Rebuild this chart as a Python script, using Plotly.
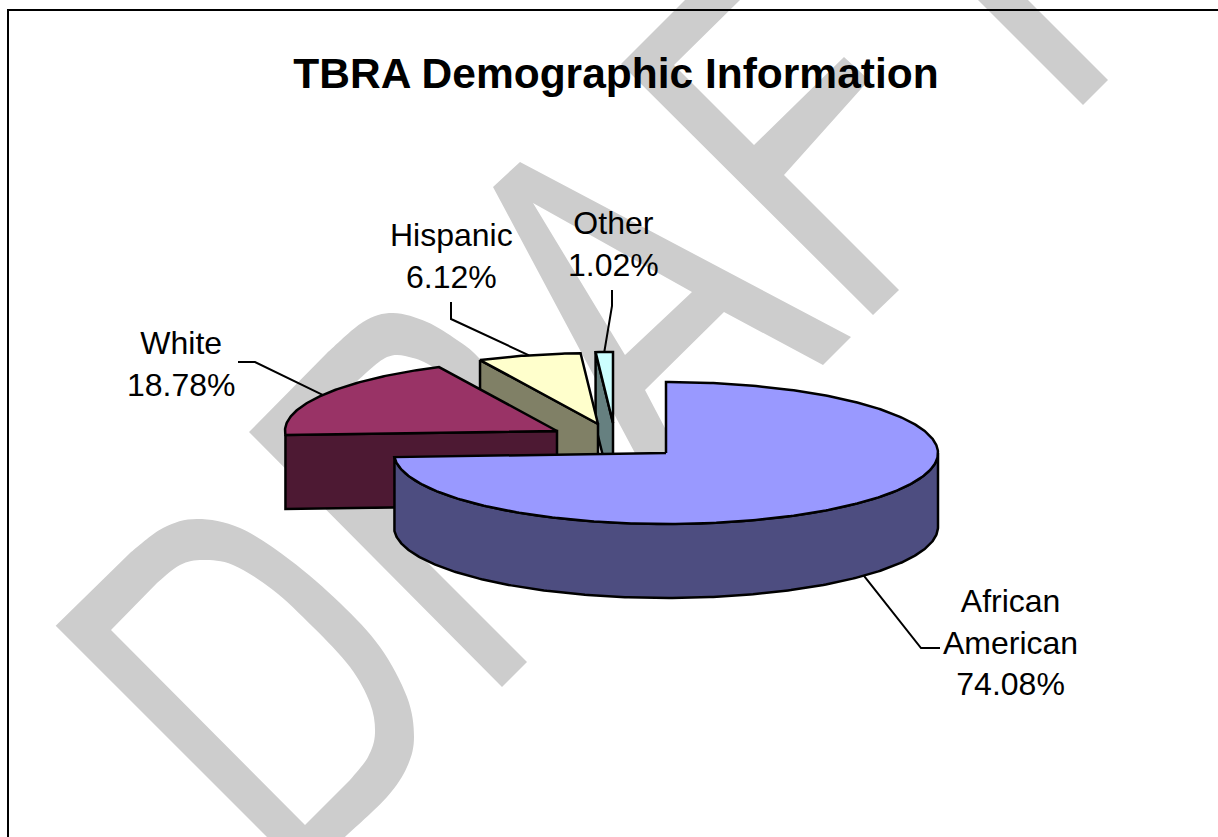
import math
import plotly.graph_objects as go

# ---- chart data ----
categories = ["African American", "White", "Hispanic", "Other"]
label_lines = ["African<br>American", "White", "Hispanic", "Other"]
percent = [74.08, 18.78, 6.12, 1.02]
top_colors = ["#9999FF", "#993366", "#FFFFCC", "#CCFFFF"]
wall_colors = ["#4D4D80", "#4D1933", "#808066", "#668080"]

# ---- projection of the tilted pie, in canvas pixels ----
RX, RY, DEPTH = 272, 71, 74
apex = {"African American": (666, 453), "White": (557, 431),
        "Hispanic": (598, 424), "Other": (613, 423)}
label_pos = {"African American": (1010, 642.5), "White": (181, 364),
             "Hispanic": (451, 255.5), "Other": (613, 243.5)}
# knee and end of each leader line (the start is derived from the slice)
leader_tail = {"African American": [(921, 648), (940, 648)],
               "White": [(255, 362), (238, 362)],
               "Hispanic": [(451, 319), (451, 302)],
               "Other": [(612, 306), (612, 290)]}


def rim(c, a, dy=0):
    r = math.radians(a)
    return c[0] + RX * math.sin(r), c[1] - RY * math.cos(r) + dy


def arc(c, a0, a1, dy=0):
    n = max(2, int(abs(a1 - a0) * 1.5))
    return [rim(c, a0 + (a1 - a0) * i / n, dy) for i in range(n + 1)]


bounds, acc = [], 0.0
for p in percent:
    bounds.append((acc * 3.6, (acc + p) * 3.6))
    acc += p


def poly(pts, color, name):
    xs = [p[0] for p in pts] + [pts[0][0]]
    ys = [p[1] for p in pts] + [pts[0][1]]
    return go.Scatter(x=xs, y=ys, mode="lines", fill="toself", fillcolor=color,
                      line=dict(color="black", width=2.5), name=name,
                      hoverinfo="name", showlegend=False)


fig = go.Figure()
# back to front
for i in [3, 2, 1, 0]:
    cat = categories[i]
    c = apex[cat]
    a0, a1 = bounds[i]
    if i == 0:
        top_rim = arc(c, 90, a1)
        wall = top_rim + arc(c, a1, 90, DEPTH)
    else:
        s = rim(c, a0)
        wall = [s, c, (c[0], c[1] + DEPTH), (s[0], s[1] + DEPTH)]
    fig.add_trace(poly(wall, wall_colors[i], cat))
    fig.add_trace(poly([c] + arc(c, a0, a1), top_colors[i], cat))

# leader lines and labels
annotations = []
for i, cat in enumerate(categories):
    mid = sum(bounds[i]) / 2
    start = rim(apex[cat], mid, DEPTH if cat == "African American" else 0)
    pts = [start] + leader_tail[cat]
    fig.add_trace(go.Scatter(x=[p[0] for p in pts], y=[p[1] for p in pts], mode="lines",
                             line=dict(color="black", width=2), hoverinfo="skip",
                             showlegend=False))
    lx, ly = label_pos[cat]
    annotations.append(dict(x=lx, y=ly, xref="x", yref="y", showarrow=False,
                            text=f"{label_lines[i]}<br>{percent[i]:.2f}%", align="center",
                            font=dict(family="Liberation Sans, Arial", size=32, color="black")))


# ---- DRAFT watermark ----
def smooth(pts):
    out = ""
    n = len(pts)
    for k in range(n - 1):
        p0 = pts[max(k - 1, 0)]
        p1, p2 = pts[k], pts[k + 1]
        p3 = pts[min(k + 2, n - 1)]
        c1 = (p1[0] + (p2[0] - p0[0]) / 6, p1[1] + (p2[1] - p0[1]) / 6)
        c2 = (p2[0] - (p3[0] - p1[0]) / 6, p2[1] - (p3[1] - p1[1]) / 6)
        out += f" C{c1[0]:.1f},{c1[1]:.1f} {c2[0]:.1f},{c2[1]:.1f} {p2[0]},{p2[1]}"
    return out


def lines(pts):
    return "".join(f" L{x},{y}" for x, y in pts)


d_path = ("M55.7,625.7 L130,553" +
          smooth([(130, 553), (163, 528), (197, 519), (240, 528), (290, 560), (340, 603),
                  (380, 647), (407, 697), (414, 737), (407, 767), (387, 797), (345, 837)]) +
          " L267,837 Z M111,630 L157,583" +
          smooth([(157, 583), (180, 565), (203, 560), (233, 565), (273, 590), (313, 627),
                  (350, 667), (370, 703), (375, 733), (368, 757), (350, 780)]) +
          " L305,825 Z")
r_path = ("M249,432 L327,353" +
          smooth([(327, 353), (363, 322), (393, 313), (427, 322), (457, 340), (478, 357),
                  (510, 395), (525, 430), (518, 465), (490, 495)]) +
          " L410,545 L527,662 L502,687 Z M301,436 L355,383" +
          smooth([(355, 383), (387, 357), (413, 358), (437, 370), (470, 400), (480, 430),
                  (470, 450), (440, 480)]) +
          " L370,505 Z")
a_path = ("M520,162" + lines([(851, 337), (823, 365), (724, 312), (645, 390), (666, 430),
                              (695, 480), (660, 500), (493, 187)]) +
          " Z M533,203" + lines([(692, 292), (625, 355)]) + " Z")
f_path = ("M621,64" + lines([(685, 0), (740, 0), (674, 65), (754, 145), (844, 57), (869, 80),
                             (784, 175), (899, 290), (873, 315)]) + " Z")
t_path = "M978,0" + lines([(1028, 0), (1108, 80), (1083, 105)]) + " Z"

shapes = [dict(type="path", path=p, xref="x", yref="y", layer="below",
               fillcolor="#CDCDCD", line=dict(width=0))
          for p in [d_path, r_path, a_path, f_path, t_path]]
# page frame: left and top rules only
shapes.append(dict(type="path", path="M8,837 L8,10 L1218,10", xref="x", yref="y", layer="above",
                   line=dict(color="black", width=2)))

hidden = dict(visible=False, showgrid=False, zeroline=False, fixedrange=True)
fig.update_layout(
    width=1218, height=837, margin=dict(l=0, r=0, t=0, b=0),
    paper_bgcolor="white", plot_bgcolor="rgba(0,0,0,0)",
    xaxis=dict(range=[0, 1218], **hidden),
    yaxis=dict(range=[837, 0], **hidden),
    title=dict(text="<b>TBRA Demographic Information</b>", x=616 / 1218, xanchor="center",
               y=1 - 73 / 837, yanchor="middle",
               font=dict(family="Liberation Sans, Arial", size=42.5, color="black")),
    shapes=shapes, annotations=annotations, showlegend=False,
)

fig.write_html("out.html", config={"displayModeBar": False},
               post_script="document.body.style.margin='0';document.body.style.overflow='hidden';")
